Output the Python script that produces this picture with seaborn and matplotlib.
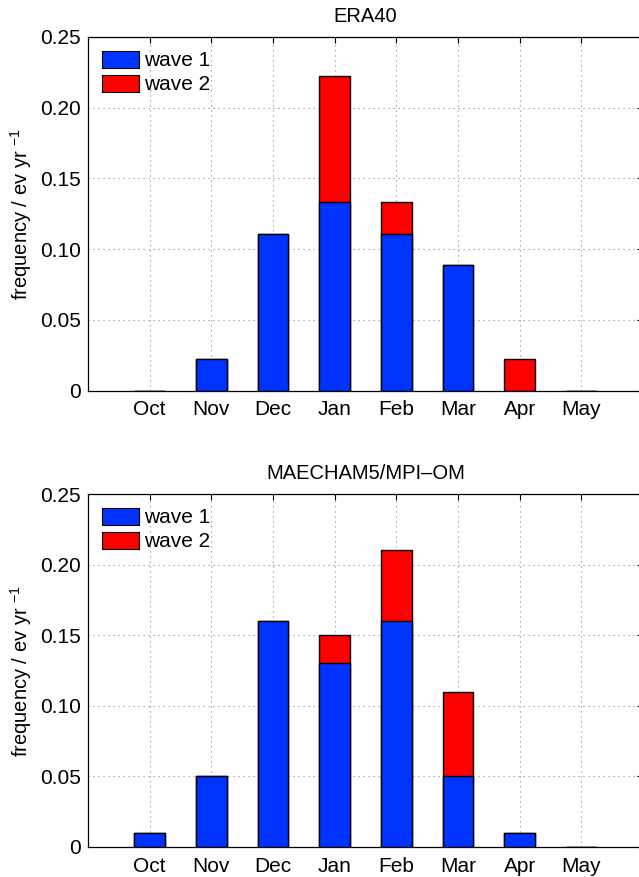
import matplotlib
matplotlib.use("Agg")
import matplotlib.pyplot as plt
from matplotlib.patches import Patch
import numpy as np
import pandas as pd
import seaborn as sns

months = ["Oct", "Nov", "Dec", "Jan", "Feb", "Mar", "Apr", "May"]

era_wave1 = [0.0, 0.0222, 0.1111, 0.1333, 0.1111, 0.0889, 0.0, 0.0]
era_wave2 = [0.0, 0.0, 0.0, 0.0889, 0.0222, 0.0, 0.0222, 0.0]

mpi_wave1 = [0.01, 0.05, 0.16, 0.13, 0.16, 0.05, 0.01, 0.0]
mpi_wave2 = [0.0, 0.0, 0.0, 0.02, 0.05, 0.06, 0.0, 0.0]

titles = ["ERA40", "MAECHAM5/MPI\u2013OM"]
yticks = [0, 0.05, 0.10, 0.15, 0.20, 0.25]
ytick_labels = ["0", "0.05", "0.10", "0.15", "0.20", "0.25"]

BLUE = "#0033ff"
RED = "#ff0000"

sns.set_theme(style="white")
plt.rcParams["font.family"] = ["Liberation Sans", "DejaVu Sans"]
plt.rcParams["mathtext.fontset"] = "custom"
plt.rcParams["mathtext.rm"] = "Liberation Sans"
plt.rcParams["mathtext.it"] = "Liberation Sans"
plt.rcParams["mathtext.default"] = "regular"
plt.rcParams["text.color"] = "black"
plt.rcParams["axes.labelcolor"] = "black"
plt.rcParams["xtick.color"] = "black"
plt.rcParams["ytick.color"] = "black"

fig = plt.figure(figsize=(6.39, 8.77), dpi=100)
W, H = 639.0, 877.0

def axes_rect(left, top, right, bottom):
    return [left / W, 1 - bottom / H, (right - left) / W, (bottom - top) / H]

rects = [axes_rect(88, 37, 643, 390.7), axes_rect(88, 494, 643, 847)]
datasets = [(era_wave1, era_wave2), (mpi_wave1, mpi_wave2)]

for rect, (w1, w2), title in zip(rects, datasets, titles):
    ax = fig.add_axes(rect)
    df = pd.DataFrame({"month": months, "wave1": w1, "wave2": w2})
    df["total"] = df["wave1"] + df["wave2"]

    sns.barplot(data=df, x="month", y="total", order=months, color=RED,
                saturation=1, width=0.5, edgecolor="black", linewidth=1.0,
                ax=ax, zorder=3)
    sns.barplot(data=df, x="month", y="wave1", order=months, color=BLUE,
                saturation=1, width=0.5, edgecolor="black", linewidth=1.0,
                ax=ax, zorder=4)

    ax.set_xlim(-1, 8)
    ax.set_ylim(0, 0.25)
    ax.set_yticks(yticks)
    ax.set_yticklabels(ytick_labels)
    ax.set_xlabel("")
    ax.set_ylabel("frequency / ev yr $^{\u22121}$", fontsize=14.5, color="black")
    ax.yaxis.set_label_coords(-0.097, 0.5)
    ax.set_title(title, fontsize=14.5, pad=11, color="black")

    ax.grid(True, axis="both", linestyle=(0, (1, 3.5)), color="#888888",
            linewidth=0.8, zorder=0)
    ax.set_axisbelow(True)
    ax.tick_params(axis="both", direction="in", length=4, width=0.8,
                   labelsize=15, top=True, right=True, colors="black")
    ax.tick_params(axis="x", pad=7)
    ax.tick_params(axis="y", pad=5)
    for side in ["left", "top", "bottom", "right"]:
        ax.spines[side].set_visible(True)
        ax.spines[side].set_color("black")
        ax.spines[side].set_linewidth(0.9)

    handles = [Patch(facecolor=BLUE, edgecolor="black", linewidth=0.8, label="wave 1"),
               Patch(facecolor=RED, edgecolor="black", linewidth=0.8, label="wave 2")]
    ax.legend(handles=handles, loc="upper left", frameon=False, fontsize=15,
              handlelength=1.8, handleheight=0.9, handletextpad=0.25,
              labelspacing=0.2, borderaxespad=0.35, borderpad=0.3)

fig.savefig("out.png", dpi=100)
